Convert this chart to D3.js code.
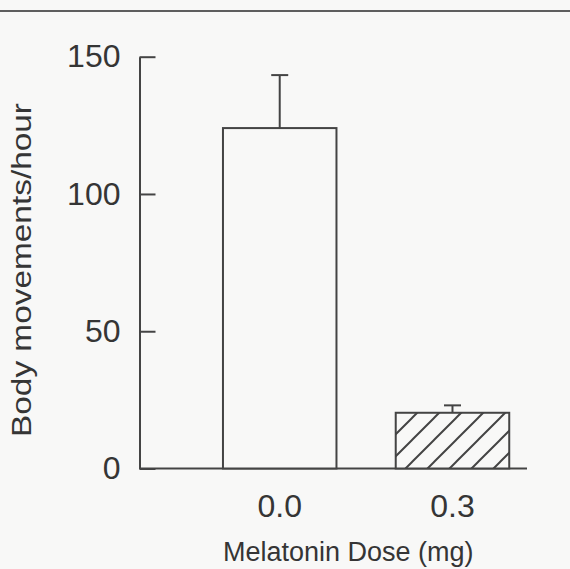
<!DOCTYPE html>
<html>
<head>
<meta charset="utf-8">
<script src="https://cdn.jsdelivr.net/npm/d3@7"></script>
<style>
  html, body { margin: 0; padding: 0; background: #f8f8f7; }
  svg { display: block; }
  text { font-family: "Liberation Sans", Arial, Helvetica, sans-serif; fill: #353535; }
</style>
</head>
<body>
<svg id="chart" width="570" height="569"></svg>
<script>
// ---- data ----
const categories = ["0.0", "0.3"];           // melatonin dose (mg)
const means = [124, 20.3];                    // body movements / hour
const sem = [19.3, 2.7];                      // upper error bar length
const yTicks = [0, 50, 100, 150];
const xTitle = "Melatonin Dose (mg)";
const yTitle = "Body movements/hour";

const W = 570, H = 569;
const ink = "#444444";
const svg = d3.select("#chart");

svg.append("rect").attr("width", W).attr("height", H).attr("fill", "#f8f8f7");

// hatch pattern
const defs = svg.append("defs");
const hw = 22;
const pat = defs.append("pattern")
  .attr("id", "hatch")
  .attr("patternUnits", "userSpaceOnUse")
  .attr("x", 16).attr("y", 0)
  .attr("width", hw).attr("height", hw);
pat.append("rect").attr("width", hw).attr("height", hw).attr("fill", "#f8f8f7");
pat.append("path")
  .attr("d", `M0,${hw} L${hw},0 M-2,2 L2,-2 M${hw-2},${hw+2} L${hw+2},${hw-2}`)
  .attr("stroke", ink).attr("stroke-width", 2);

// top rule line across the page
svg.append("line")
  .attr("x1", 0).attr("x2", W).attr("y1", 11).attr("y2", 11)
  .attr("stroke", "#5e5e5e").attr("stroke-width", 2);

// scales
const axisX = 139.5, axisRight = 527;
const y = d3.scaleLinear().domain([0, 150]).range([468.5, 56.7]);
const x = d3.scaleBand().domain(categories)
  .range([172.35, 559.85]).paddingInner(0.343).paddingOuter(0.293);

// y axis
const yAxis = svg.append("g")
  .attr("transform", `translate(${axisX},0)`)
  .call(d3.axisLeft(y).tickValues(yTicks).tickSizeInner(-16).tickSizeOuter(0).tickPadding(19).tickFormat(d3.format("d")));
yAxis.select(".domain").attr("stroke", ink).attr("stroke-width", 2);
yAxis.selectAll(".tick line").attr("stroke", ink).attr("stroke-width", 2);
yAxis.selectAll(".tick text").attr("font-size", 32).attr("fill", "#353535")
  .attr("font-family", '"Liberation Sans", Arial, sans-serif');

// x baseline
svg.append("line")
  .attr("x1", axisX).attr("x2", axisRight)
  .attr("y1", y(0)).attr("y2", y(0))
  .attr("stroke", ink).attr("stroke-width", 2);

// bars
svg.selectAll("rect.bar").data(categories).enter().append("rect")
  .attr("class", "bar")
  .attr("x", d => x(d))
  .attr("width", x.bandwidth())
  .attr("y", (d, i) => y(means[i]))
  .attr("height", (d, i) => y(0) - y(means[i]))
  .attr("fill", (d, i) => i === 0 ? "#f8f8f7" : "url(#hatch)")
  .attr("stroke", ink).attr("stroke-width", 2);

// error bars
const cap = 17;
const eb = svg.selectAll("g.err").data(categories).enter().append("g").attr("class", "err");
eb.append("line")
  .attr("x1", d => x(d) + x.bandwidth() / 2)
  .attr("x2", d => x(d) + x.bandwidth() / 2)
  .attr("y1", (d, i) => y(means[i]))
  .attr("y2", (d, i) => y(means[i] + sem[i]))
  .attr("stroke", ink).attr("stroke-width", 2);
eb.append("line")
  .attr("x1", d => x(d) + x.bandwidth() / 2 - cap / 2)
  .attr("x2", d => x(d) + x.bandwidth() / 2 + cap / 2)
  .attr("y1", (d, i) => y(means[i] + sem[i]))
  .attr("y2", (d, i) => y(means[i] + sem[i]))
  .attr("stroke", ink).attr("stroke-width", 2);

// x axis labels
const xAxis = svg.append("g")
  .attr("transform", `translate(0,${y(0)})`)
  .call(d3.axisBottom(x).tickSize(0).tickPadding(26));
xAxis.select(".domain").remove();
xAxis.selectAll(".tick text").attr("font-size", 32).attr("fill", "#353535")
  .attr("font-family", '"Liberation Sans", Arial, sans-serif');

// axis titles
svg.append("text")
  .attr("x", 348.3).attr("y", 561)
  .attr("text-anchor", "middle")
  .attr("font-size", 27)
  .text(xTitle);

svg.append("text")
  .attr("transform", "translate(31,270) rotate(-90)")
  .attr("text-anchor", "middle")
  .attr("font-size", 27)
  .attr("textLength", 334)
  .attr("lengthAdjust", "spacingAndGlyphs")
  .text(yTitle);
</script>
</body>
</html>
